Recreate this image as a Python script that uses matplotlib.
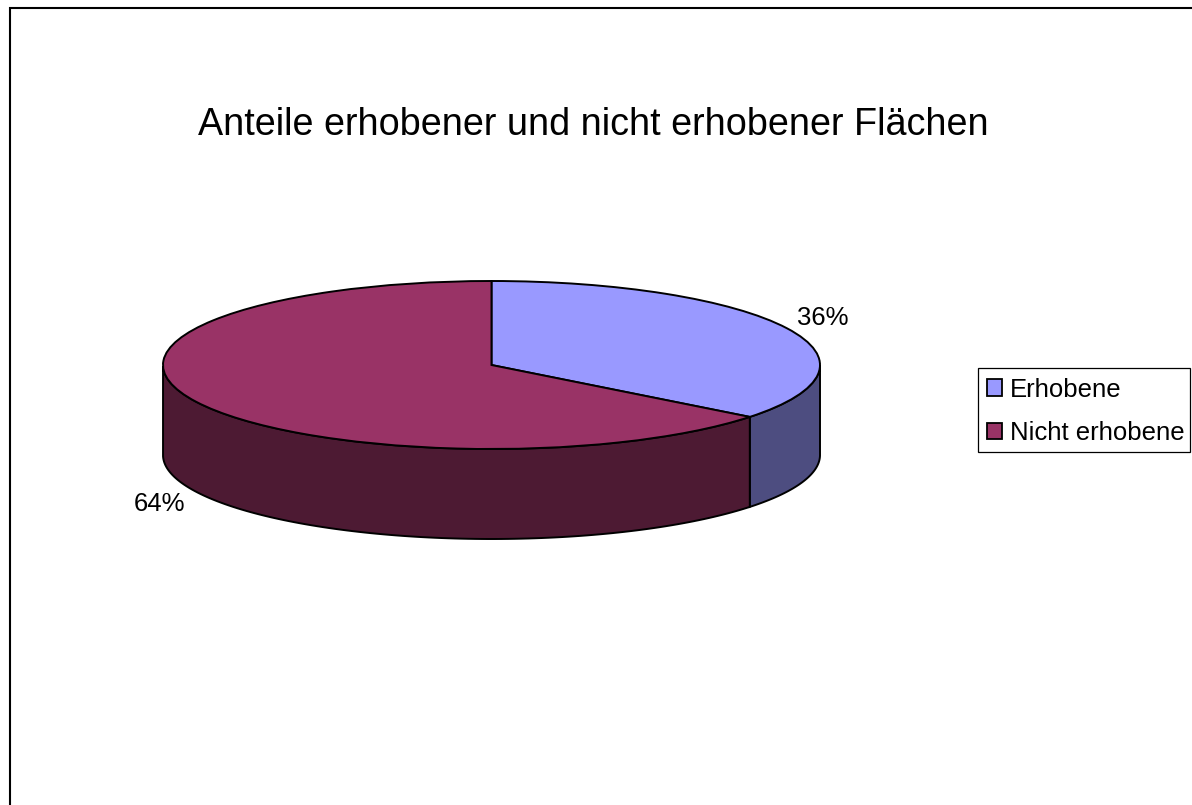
import numpy as np
import matplotlib
matplotlib.use('Agg')
import matplotlib.pyplot as plt
from matplotlib.patches import Patch, Rectangle

plt.rcParams['font.family'] = ['Liberation Sans', 'DejaVu Sans']

W, H = 1192, 805

title = 'Anteile erhobener und nicht erhobener Flächen'
categories = ['Erhobene', 'Nicht erhobene']
values = [35.6, 64.4]
top_colors = ['#9999FF', '#993366']
wall_colors = ['#4D4D80', '#4D1A33']


def fx(px):
    return px / W


def fy(py):
    return 1 - py / H


fig = plt.figure(figsize=(W / 100, H / 100), dpi=100, facecolor='white')

# outer frame, right and bottom side are cut off in the original
fig.add_artist(Rectangle((fx(9.5), fy(830)), fx(1300), 830 / H - 8 / H, transform=fig.transFigure,
                         fill=False, edgecolor='black', lw=1.5))

# axes sits exactly on the top ellipse of the pie
ax = fig.add_axes([fx(163), fy(449), fx(657), 168 / H])
depth = 2 * 90 / 168
edge = dict(edgecolor='black', linewidth=1.4)

ax.pie(values, colors=top_colors, startangle=90, counterclock=False, wedgeprops=edge)
ax.set_aspect('auto')
ax.set_xlim(-1, 1)
ax.set_ylim(-1, 1)
ax.axis('off')

# side wall: only the part of every slice that faces down
start = 90.0
for val, col in zip(values, wall_colors):
    stop = start - 360 * val / sum(values)
    ang = np.radians(np.linspace(stop, start, 200))
    ang = ang[np.sin(ang) <= 0]
    xs = np.cos(ang)
    ys = np.sin(ang)
    ax.fill(np.r_[xs, xs[::-1]], np.r_[ys, ys[::-1] - depth], facecolor=col,
            clip_on=False, zorder=0, **edge)
    start = stop

fig.text(fx(593.5), fy(125), title, fontsize=27.2, ha='center', va='center', color='black')
fig.text(fx(823), fy(318), f'{values[0]:.0f}%', fontsize=18.5, ha='center', va='center')
fig.text(fx(159.5), fy(504), f'{values[1]:.0f}%', fontsize=18.5, ha='center', va='center')

# legend box drawn by hand, the entries nearly touch its right side
fig.add_artist(Rectangle((fx(977.5), fy(452)), 212.5 / W, 84 / H, transform=fig.transFigure,
                         facecolor='white', edgecolor='black', lw=0.9))
handles = [Patch(facecolor=c, edgecolor='black', linewidth=1.3) for c in top_colors]
leg = fig.legend(handles, categories, loc='upper left', bbox_to_anchor=(fx(977), fy(368)),
                 fontsize=18.5, frameon=False,
                 handlelength=0.6, handleheight=0.6, handletextpad=0.3,
                 labelspacing=0.76, borderpad=0.37, borderaxespad=0)

fig.savefig('out.png', dpi=100)
